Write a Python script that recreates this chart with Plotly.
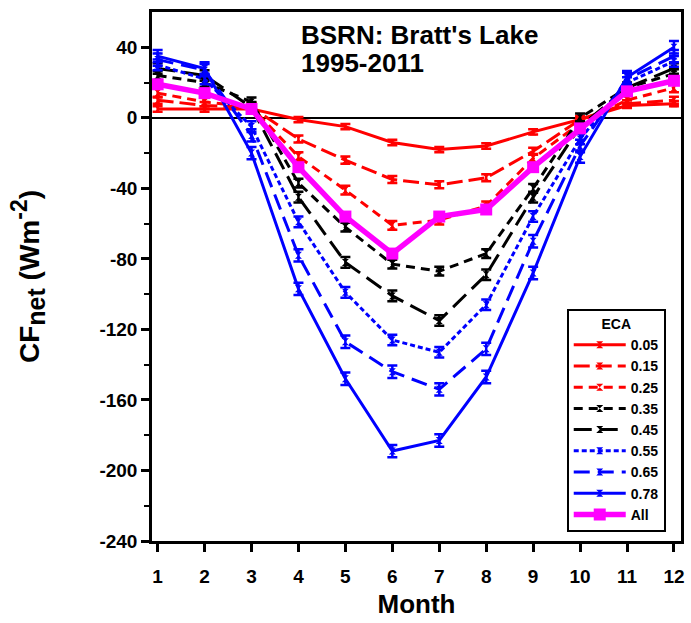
import plotly.graph_objects as go

months = [1, 2, 3, 4, 5, 6, 7, 8, 9, 10, 11, 12]

eca_labels = ["0.05", "0.15", "0.25", "0.35", "0.45", "0.55", "0.65", "0.78", "All"]

cf_005 = [5, 5, 5, -1, -5, -14, -18, -16, -8, -1, 7, 8]
cf_015 = [10, 7, 6, -12, -24, -35, -38, -34, -19, -1, 8, 10]
cf_025 = [14, 9, 6, -22, -41, -61, -58, -50, -23, -3, 10, 17]
cf_035 = [24, 20, 9, -37, -62, -83, -87, -77, -40, 0, 17, 25]
cf_045 = [28, 24, 6, -45, -82, -101, -115, -89, -45, -5, 17, 28]
cf_055 = [30, 22, -5, -59, -99, -126, -133, -106, -56, -12, 20, 32]
cf_065 = [33, 27, -10, -78, -127, -144, -154, -131, -70, -16, 22, 35]
cf_078 = [35, 28, -20, -97, -148, -189, -183, -147, -88, -22, 23, 40]
cf_all = [19, 14, 5, -28, -56, -77, -56, -52, -28, -6, 15, 21]

err_005 = [1.5] * 12
err_015 = [2] * 12
err_025 = [2.5] * 12
err_035 = [2.5] * 12
err_045 = [3] * 12
err_055 = [3] * 12
err_065 = [3.5] * 12
err_078 = [3.5] * 12
err_all = [2] * 12

y_tickvals = [40, 0, -40, -80, -120, -160, -200, -240]
y_minorvals = [20, -20, -60, -100, -140, -180, -220]

series = [cf_005, cf_015, cf_025, cf_035, cf_045, cf_055, cf_065, cf_078, cf_all]
errors = [err_005, err_015, err_025, err_035, err_045, err_055, err_065, err_078, err_all]

RED = "#ff0000"
BLK = "#000000"
BLU = "#0000ff"
MAG = "#ff00ff"
styles = [
    (RED, "solid", 3),
    (RED, "16px,6px", 3),
    (RED, "9px,6px", 3),
    (BLK, "9px,6px", 3),
    (BLK, "18px,8px", 3),
    (BLU, "5px,3px", 3),
    (BLU, "16px,8px", 3),
    (BLU, "solid", 3),
    (MAG, "solid", 5.5),
]

FONT = "Arial, Liberation Sans, sans-serif"

fig = go.Figure()
for lab, ys, er, (col, dash, w) in zip(eca_labels, series, errors, styles):
    is_all = lab == "All"
    fig.add_trace(go.Scatter(
        x=months, y=ys, name="<b>%s</b>" % lab, mode="lines+markers",
        line=dict(color=col, dash=dash, width=w),
        marker=dict(symbol="square" if is_all else "hourglass",
                    size=12 if is_all else 7, color=col,
                    line=dict(width=0)),
        error_y=dict(type="data", array=er, visible=True, color=col,
                     thickness=2.5, width=5),
    ))

fig.update_layout(
    width=691, height=623,
    margin=dict(l=152, r=7, t=12, b=82),
    plot_bgcolor="white", paper_bgcolor="white",
    font=dict(family=FONT, size=17, color="black"),
    showlegend=True,
    legend=dict(
        x=0.784, y=0.017, xanchor="left", yanchor="bottom",
        bordercolor="black", borderwidth=2, bgcolor="white",
        font=dict(family=FONT, size=14, color="black", weight="bold"),
        title=dict(text="<b>ECA</b>", side="top center",
                   font=dict(family=FONT, size=14)),
        tracegroupgap=0, itemwidth=52,
    ),
    annotations=[
        dict(text="<b>BSRN: Bratt's Lake</b>",
             xref="paper", yref="paper",
             x=(300 - 152) / 532, y=(541 - 35) / 529,
             xanchor="left", yanchor="middle", showarrow=False,
             font=dict(family=FONT, size=26, color="black")),
        dict(text="<b>1995-2011</b>",
             xref="paper", yref="paper",
             x=(300 - 152) / 532, y=(541 - 63) / 529,
             xanchor="left", yanchor="middle", showarrow=False,
             font=dict(family=FONT, size=26, color="black")),
    ],
)

fig.update_xaxes(
    range=[0.88, 12.15], tickmode="array", tickvals=months,
    ticktext=["<b>%d</b>" % m for m in months],
    ticks="outside", ticklen=8, tickwidth=2.5, tickcolor="black",
    ticklabelstandoff=8,
    showline=True, linecolor="black", linewidth=2.5, mirror=True,
    showgrid=False, zeroline=False,
    tickfont=dict(family=FONT, size=19, weight="bold"),
    title=dict(text="<b>Month</b>", font=dict(family=FONT, size=26), standoff=10),
)
fig.update_yaxes(
    range=[-240, 60], tickmode="array",
    tickvals=y_tickvals, ticktext=["<b>%d</b>" % v for v in y_tickvals],
    ticks="outside", ticklen=8, tickwidth=2.5, tickcolor="black",
    minor=dict(tickvals=y_minorvals, ticks="outside",
               ticklen=5, tickwidth=2, tickcolor="black"),
    showline=True, linecolor="black", linewidth=2.5, mirror=True,
    showgrid=False, zeroline=True, zerolinecolor="black", zerolinewidth=2,
    tickfont=dict(family=FONT, size=19, weight="bold"),
    title=dict(text=("<b>CF<sub><span style=\"font-size:25px\">net</span></sub>"
                     " (Wm<sup><span style=\"font-size:23px\">-2</span></sup>)</b>"),
               font=dict(family=FONT, size=28), standoff=52),
)

fig.write_html("out.html")
